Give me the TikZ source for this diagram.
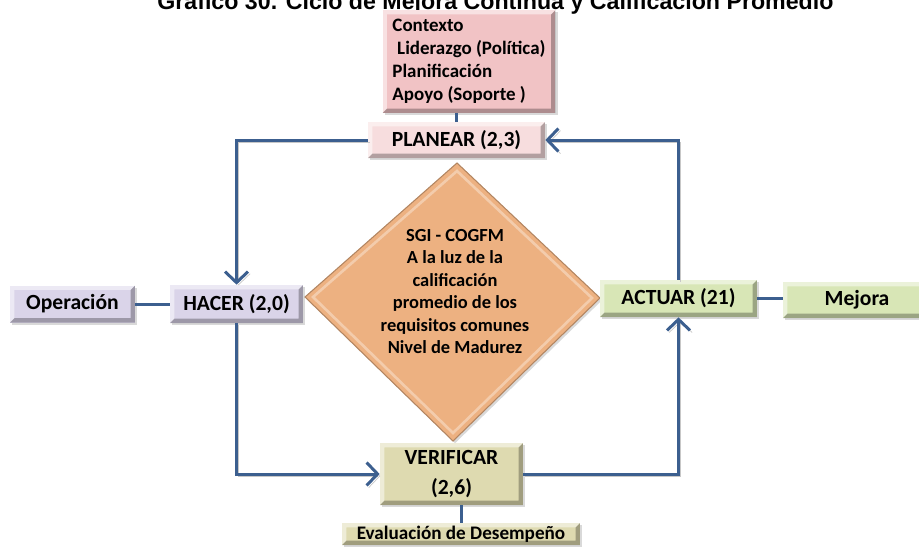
\documentclass[tikz,border=0pt]{standalone}
\usepackage{fontspec}
\setmainfont{Carlito}
\newfontfamily\titlefont{Liberation Sans}
\usetikzlibrary{arrows.meta,shadows}

\definecolor{flowblue}{HTML}{3C5F8F}
\definecolor{ctxpink}{HTML}{F1C3C5}
\definecolor{planpink}{HTML}{F7DDDE}
\definecolor{lila}{HTML}{DAD4E9}
\definecolor{verde}{HTML}{D8E6B6}
\definecolor{arena}{HTML}{DEDAB0}
\definecolor{naranja}{HTML}{EDB181}

\tikzset{
  bevel/.style={path picture={
      \fill[white,opacity=.5] (path picture bounding box.north west) -- (path picture bounding box.north east)
        -- ([shift={(-2.5pt,-2.5pt)}]path picture bounding box.north east) -- ([shift={(2.5pt,-2.5pt)}]path picture bounding box.north west)
        -- ([shift={(2.5pt,2.5pt)}]path picture bounding box.south west) -- (path picture bounding box.south west) -- cycle;
      \fill[black,opacity=.28] (path picture bounding box.south east) -- (path picture bounding box.north east)
        -- ([shift={(-2.5pt,-2.5pt)}]path picture bounding box.north east) -- ([shift={(-2.5pt,2.5pt)}]path picture bounding box.south east)
        -- ([shift={(2.5pt,2.5pt)}]path picture bounding box.south west) -- (path picture bounding box.south west) -- cycle;
    }},
  caja/.style={rectangle, fill=#1, bevel, inner sep=0pt,
    font=\bfseries\fontsize{12.3}{15}\selectfont,
    drop shadow={opacity=.3,shadow xshift=1.2pt,shadow yshift=-1.2pt}},
  sombra/.style={preaction={draw=black!22, transform canvas={xshift=1.2pt,yshift=-1.2pt}}},
  flecha/.style={draw=flowblue, line width=1.7pt, sombra, -{Straight Barb[length=2.2mm,width=4.6mm]}},
  enlace/.style={draw=flowblue, line width=1.7pt},
}

\begin{document}
\begin{tikzpicture}[x=0.02cm,y=-0.02cm]
  \useasboundingbox (0,0) rectangle (919,552);

  % titulo (cortado arriba)
  \node [anchor=base west, inner sep=0pt, font=\titlefont\bfseries\fontsize{13.2}{15}\selectfont]
    (titulo) at (157,9.5) {Gráfico 30. Ciclo de Mejora Continua y Calificación Promedio};

  % rombo central
  \filldraw [fill=naranja, draw=naranja!75!black, line width=0.6pt,
    drop shadow={opacity=.3,shadow xshift=1.2pt,shadow yshift=-1.2pt}]
    (457,163) -- (600,298) -- (453,441) -- (305,297) -- cycle;
  \draw [white, opacity=.35, line width=1.5pt] (457,171) -- (592,298) -- (453,433) -- (313,297) -- cycle;
  \node [align=center, font=\bfseries\fontsize{10.5}{12.75}\selectfont] (sgi) at (455,291.5)
    {SGI - COGFM\\A la luz de la\\calificación\\promedio de los\\requisitos comunes\\Nivel de Madurez};

  % cajas
  \node [caja=ctxpink, minimum width=3.46cm, minimum height=2.06cm, align=left,
    font=\bfseries\fontsize{10.8}{13}\selectfont] (ctx) at (469,61.5)
    {Contexto\\\hspace*{0.25em}Liderazgo (Política)\\Planificación\\Apoyo (Soporte )};
  \node [caja=planpink, minimum width=3.54cm, minimum height=0.72cm] (plan)   at (456.5,140) {PLANEAR (2,3)};
  \node [caja=lila,     minimum width=2.50cm, minimum height=0.74cm] (oper)   at (72.5,304)  {Operación};
  \node [caja=lila,     minimum width=2.66cm, minimum height=0.76cm] (hacer)  at (236.5,304) {HACER (2,0)};
  \node [caja=verde,    minimum width=3.14cm, minimum height=0.74cm] (actuar) at (678.5,298.5) {ACTUAR (21)};
  \node [caja=verde,    minimum width=2.96cm, minimum height=0.72cm] (mejora) at (857,300)   {Mejora};
  \node [caja=arena,    minimum width=2.86cm, minimum height=1.24cm, align=center,
    font=\bfseries\fontsize{12.3}{17}\selectfont] (verif) at (451.5,474) {VERIFICAR\\(2,6)};
  \node [caja=arena,    minimum width=4.76cm, minimum height=0.44cm,
    font=\bfseries\fontsize{10.9}{13}\selectfont] (eval) at (461,534) {Evaluación de Desempeño};

  % enlaces
  \draw [enlace] (plan.north) -- (plan.north |- ctx.south);
  \draw [enlace] (oper.east) -- (hacer.west);
  \draw [enlace] (actuar.east) -- (actuar.east -| mejora.west);
  \draw [enlace] (eval.north) -- (eval.north |- verif.south);

  % ciclo
  \draw [flecha] (plan.west) -| (hacer.north);
  \draw [flecha] (hacer.south) |- (verif.west);
  \draw [flecha] (verif.east) -| (actuar.south);
  \draw [flecha] (actuar.north) |- (plan.east);
\end{tikzpicture}
\end{document}
